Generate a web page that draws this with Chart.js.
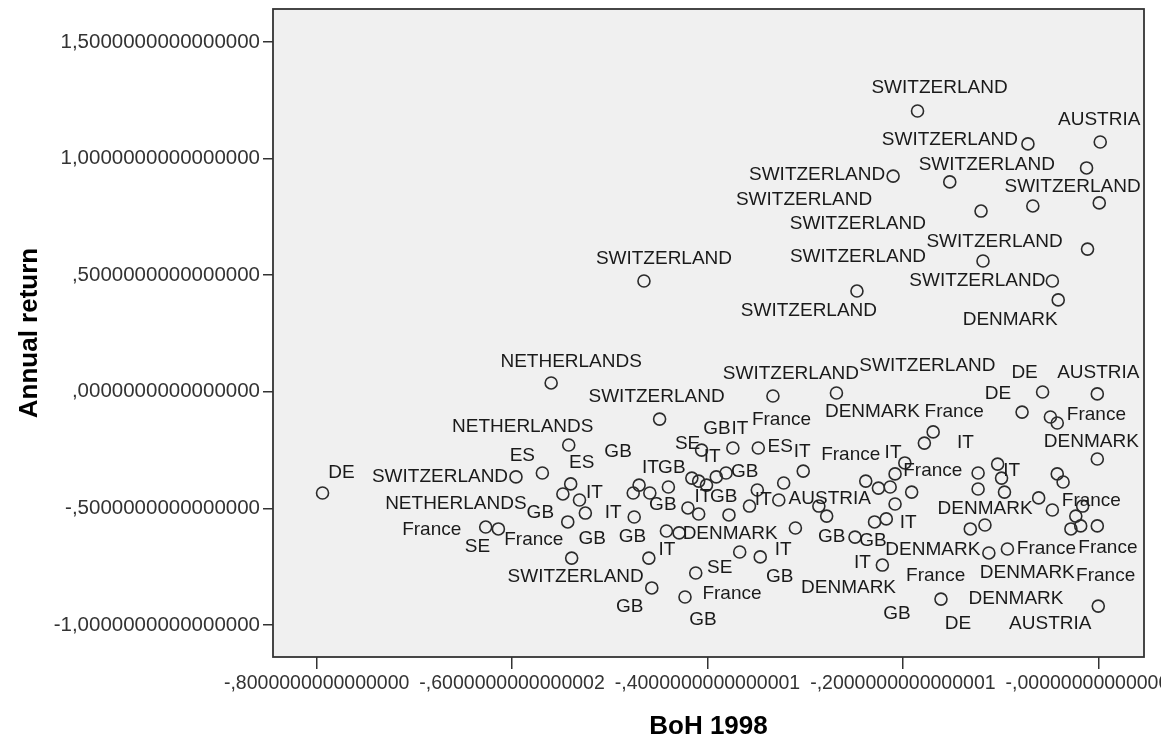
<!DOCTYPE html>
<html>
<head>
<meta charset="utf-8">
<script src="https://cdn.jsdelivr.net/npm/chart.js@4/dist/chart.umd.min.js"></script>
<style>
  html, body { margin: 0; padding: 0; background: #fff; }
  #wrap { width: 1161px; height: 742px; }
</style>
</head>
<body>
<div id="wrap"><canvas id="chart" width="1161" height="742"></canvas></div>
<script>
// BoH 1998 (x) and annual return (y), one entry per case
const boh = [
  -0.185, 0.002, -0.072, -0.012, -0.152, -0.210, 0.001, -0.067, -0.120, -0.011,
  -0.118, -0.047, -0.041, -0.465, -0.247, -0.560, -0.449, -0.333, -0.268, -0.057,
  -0.001, -0.078, -0.049, -0.042, -0.001, -0.542, -0.569, -0.596, -0.794, -0.540,
  -0.548, -0.531, -0.525, -0.543, -0.627, -0.614, -0.539, -0.406, -0.374, -0.348,
  -0.381, -0.391, -0.401, -0.416, -0.440, -0.409, -0.420, -0.409, -0.378, -0.470,
  -0.476, -0.459, -0.475, -0.442, -0.429, -0.460, -0.457, -0.412, -0.423, -0.349,
  -0.357, -0.327, -0.322, -0.302, -0.286, -0.278, -0.310, -0.367, -0.346, -0.169,
  -0.178, -0.198, -0.238, -0.208, -0.225, -0.213, -0.191, -0.208, -0.229, -0.217,
  -0.249, -0.221, -0.161, -0.131, -0.116, -0.123, -0.103, -0.099, -0.123, -0.096,
  -0.042, -0.036, -0.061, -0.047, -0.016, -0.023, -0.028, -0.018, -0.001, -0.112,
  -0.093, 0.000
];
const annualReturn = [
  1.204, 1.071, 1.063, 0.960, 0.900, 0.925, 0.810, 0.797, 0.775, 0.612,
  0.561, 0.475, 0.394, 0.475, 0.432, 0.038, -0.117, -0.018, -0.005, -0.001,
  -0.009, -0.087, -0.108, -0.134, -0.288, -0.228, -0.348, -0.365, -0.434, -0.395,
  -0.438, -0.464, -0.520, -0.558, -0.580, -0.588, -0.713, -0.250, -0.241, -0.241,
  -0.348, -0.365, -0.400, -0.370, -0.408, -0.383, -0.498, -0.524, -0.528, -0.400,
  -0.434, -0.434, -0.537, -0.597, -0.605, -0.713, -0.841, -0.777, -0.880, -0.421,
  -0.490, -0.464, -0.391, -0.340, -0.490, -0.533, -0.584, -0.687, -0.708, -0.172,
  -0.220, -0.305, -0.383, -0.352, -0.413, -0.408, -0.430, -0.481, -0.558, -0.545,
  -0.623, -0.743, -0.889, -0.588, -0.571, -0.348, -0.310, -0.370, -0.417, -0.430,
  -0.352, -0.387, -0.455, -0.507, -0.490, -0.533, -0.588, -0.575, -0.575, -0.691,
  -0.674, -0.919
];
const country = [
  'SWITZERLAND', 'AUSTRIA', 'SWITZERLAND', 'SWITZERLAND', 'SWITZERLAND', 'SWITZERLAND', '', 'SWITZERLAND', 'SWITZERLAND', 'SWITZERLAND',
  'SWITZERLAND', 'SWITZERLAND', 'DENMARK', 'SWITZERLAND', 'SWITZERLAND', 'NETHERLANDS', 'SWITZERLAND', 'SWITZERLAND', 'SWITZERLAND', 'DE',
  'AUSTRIA', 'DE', 'France', '', 'DENMARK', 'NETHERLANDS', 'ES', 'SWITZERLAND', 'DE', 'ES',
  'NETHERLANDS', 'IT', 'GB', 'France', 'France', 'SE', 'SWITZERLAND', 'SE', 'GB', 'ES',
  'IT', 'IT', 'France', 'GB', 'IT', 'GB', 'IT', 'GB', 'France', 'GB',
  'GB', 'GB', 'IT', 'GB', 'DENMARK', 'IT', 'GB', 'SE', 'GB', 'IT',
  '', 'AUSTRIA', '', 'IT', '', 'GB', '', 'GB', 'IT', 'France',
  'IT', 'France', 'France', 'IT', 'DENMARK', '', 'France', 'GB', 'DENMARK', 'IT',
  'GB', 'IT', 'DE', 'DENMARK', 'DENMARK', '', 'IT', '', 'DENMARK', '',
  '', '', '', 'France', '', '', 'France', 'France', '', 'DENMARK',
  'France', 'AUSTRIA'
];

// where each case label sits relative to its circle, in pixels
const labelDx = [
  22, -1, -78, -14, 37, -76, 0, -175, -177, -93,
  -125, -75, -48, 20, -48, 20, -3, 18, 91, -18,
  1, -24, 46, 0, -6, -46, -20, -76, 19, 11,
  -107, 15, -45, -34, -54, -21, 4, -14, -16, 22,
  14, -4, 75, -20, -18, 46, 15, 25, 3, -21,
  -41, 13, -21, -34, 51, 18, -22, 24, 18, 6,
  0, 51, 0, -1, 0, 5, 0, 40, 23, 21,
  41, 28, -15, -2, -6, 0, 24, 2, -26, 22,
  18, -20, 17, 57, 31, 0, 14, 0, 7, 0,
  0, 0, 0, 39, 0, 0, 37, 25, 0, -56,
  39, -48
];
const labelDy = [
  -23, -22, -4, 19, -17, -1, 0, 18, -11, -7,
  -4, 0, 20, -22, 20, -21, -22, -22, -27, -19,
  -21, -18, -2, 0, -17, -18, -17, 0, -20, -21,
  10, -7, 0, 18, 3, 18, 19, -6, -19, -1,
  -44, -20, -65, -10, -19, -9, -11, -17, 79, -33,
  46, 12, -4, 6, 1, -8, 19, -5, 23, 10,
  0, -1, 0, -19, 0, 21, 0, 25, -7, -20,
  0, 8, -26, -21, -76, 0, 84, 110, 66, 4,
  4, -2, 25, 44, 74, 0, 7, 0, 20, 0,
  0, 0, 0, -9, 0, 0, 19, 50, 0, -3,
  0, 18
];

const xTicks = [-0.8, -0.6, -0.4, -0.2, 0];
const xTickLabels = ['-,8000000000000000', '-,6000000000000002', '-,4000000000000001', '-,2000000000000001', '-,0000000000000000'];
const yTicks = [-1, -0.5, 0, 0.5, 1, 1.5];
const yTickLabels = ['-1,0000000000000000', '-,5000000000000000', ',0000000000000000', ',5000000000000000', '1,0000000000000000', '1,5000000000000000'];

const FONT = '"Liberation Sans", Arial, sans-serif';

const points = boh.map((x, i) => ({ x: x, y: annualReturn[i] }));

// grey plot background and dark frame
const plotFrame = {
  id: 'plotFrame',
  beforeDatasetsDraw(chart) {
    const { ctx, chartArea: a } = chart;
    ctx.save();
    ctx.fillStyle = '#f0f0f0';
    ctx.fillRect(a.left, a.top, a.right - a.left, a.bottom - a.top);
    ctx.restore();
  },
  afterDraw(chart) {
    const { ctx, chartArea: a } = chart;
    ctx.save();
    ctx.strokeStyle = '#333';
    ctx.lineWidth = 1.8;
    ctx.strokeRect(a.left, a.top, a.right - a.left, a.bottom - a.top);
    ctx.restore();
  }
};

// case labels next to the circles
const caseLabels = {
  id: 'caseLabels',
  afterDatasetsDraw(chart) {
    const { ctx, chartArea: a } = chart;
    const meta = chart.getDatasetMeta(0);
    ctx.save();
    ctx.beginPath();
    ctx.rect(a.left, a.top, a.right - a.left, a.bottom - a.top);
    ctx.clip();
    ctx.font = '19px ' + FONT;
    ctx.fillStyle = '#1a1a1a';
    ctx.textAlign = 'center';
    ctx.textBaseline = 'middle';
    meta.data.forEach((pt, i) => {
      if (!country[i]) return;
      ctx.fillText(country[i], pt.x + labelDx[i], pt.y + labelDy[i]);
    });
    ctx.restore();
  }
};

new Chart(document.getElementById('chart'), {
  type: 'scatter',
  data: {
    datasets: [{
      data: points,
      pointRadius: 6,
      pointHoverRadius: 6,
      pointBackgroundColor: 'rgba(0,0,0,0)',
      pointBorderColor: '#2b2b2b',
      pointBorderWidth: 1.6
    }]
  },
  options: {
    responsive: false,
    animation: false,
    events: [],
    layout: { padding: { top: 9, right: 17, bottom: 0, left: 0 } },
    plugins: {
      legend: { display: false },
      tooltip: { enabled: false }
    },
    scales: {
      x: {
        type: 'linear',
        min: -0.8447,
        max: 0.0468,
        afterBuildTicks: (scale) => { scale.ticks = xTicks.map(v => ({ value: v })); },
        afterFit: (scale) => {
          scale.height = 85;
          scale.paddingLeft = 0;
          scale.paddingRight = 0;
        },
        grid: { drawOnChartArea: false, drawTicks: true, tickLength: 12, color: '#333', lineWidth: 1.5 },
        border: { display: false },
        ticks: {
          autoSkip: false,
          maxRotation: 0,
          minRotation: 0,
          padding: 3,
          color: '#333',
          font: { family: FONT, size: 19.5 },
          callback: (v, i) => xTickLabels[i]
        },
        title: {
          display: true,
          text: 'BoH 1998',
          color: '#000',
          font: { family: FONT, size: 26, weight: 'bold' },
          padding: { top: 0, bottom: 0 }
        }
      },
      y: {
        type: 'linear',
        min: -1.1372,
        max: 1.6415,
        afterBuildTicks: (scale) => { scale.ticks = yTicks.map(v => ({ value: v })); },
        afterFit: (scale) => {
          scale.width = 273;
          scale.paddingTop = 0;
          scale.paddingBottom = 0;
        },
        grid: { drawOnChartArea: false, drawTicks: true, tickLength: 10, color: '#333', lineWidth: 1.5 },
        border: { display: false },
        ticks: {
          padding: 3,
          color: '#333',
          font: { family: FONT, size: 20.5 },
          callback: (v, i) => yTickLabels[i]
        },
        title: {
          display: true,
          text: 'Annual return',
          color: '#000',
          font: { family: FONT, size: 26, weight: 'bold' },
          padding: { top: 14, bottom: 0 }
        }
      }
    }
  },
  plugins: [plotFrame, caseLabels]
});
</script>
</body>
</html>
